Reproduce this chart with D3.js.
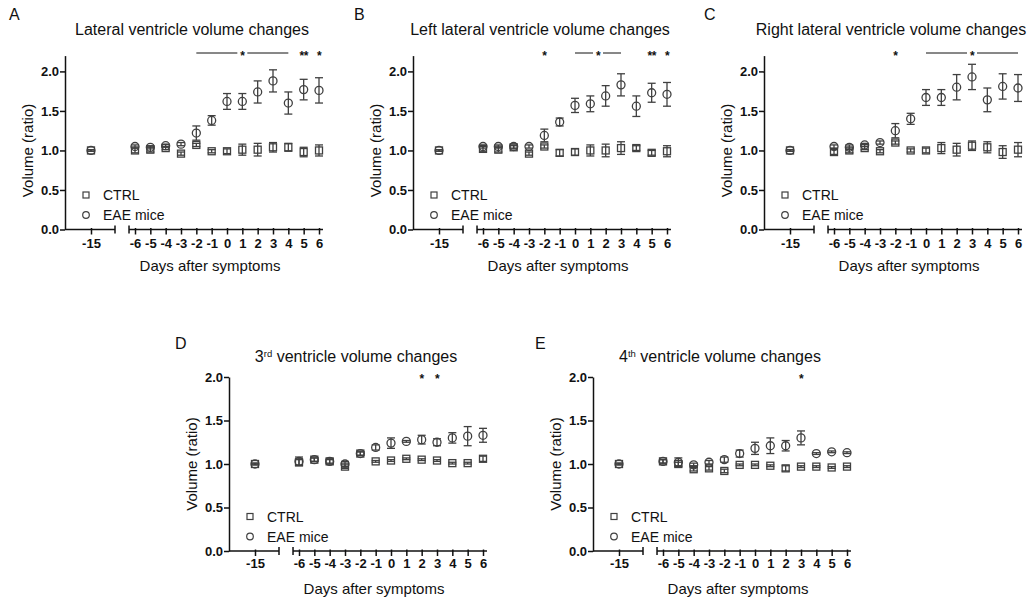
<!DOCTYPE html>
<html lang="en">
<head>
    <meta charset="utf-8">
    <title>Ventricle volume changes</title>
    <script src="https://cdn.jsdelivr.net/npm/d3@7"></script>
    <style>
        body { margin: 0; background: #fff; font-family: 'Liberation Sans', Arial, sans-serif; }
        svg text { fill: #111; }
        .axis path, .axis line { stroke: #111; stroke-width: 1.5; }
    </style>
</head>
<body>
<svg id="chart"></svg>
<script>
// days shown on the x axis (-15 sits on its own segment before the break)
var days = [-15, -6, -5, -4, -3, -2, -1, 0, 1, 2, 3, 4, 5, 6];
var yTicks = [0, 0.5, 1.0, 1.5, 2.0];
var seriesNames = ["CTRL", "EAE mice"];

// A - lateral ventricle
var ctrlA    = [1.00, 1.00, 1.01, 1.03, 0.96, 1.07, 0.99, 0.99, 1.01, 1.01, 1.04, 1.04, 0.98, 1.00];
var ctrlAErr = [0.01, 0.03, 0.03, 0.02, 0.02, 0.02, 0.02, 0.03, 0.07, 0.08, 0.06, 0.05, 0.06, 0.07];
var eaeA     = [1.00, 1.05, 1.04, 1.06, 1.08, 1.22, 1.38, 1.62, 1.62, 1.74, 1.88, 1.60, 1.77, 1.76];
var eaeAErr  = [0.01, 0.02, 0.02, 0.02, 0.02, 0.09, 0.06, 0.10, 0.10, 0.14, 0.14, 0.14, 0.13, 0.16];
// B - left lateral ventricle
var ctrlB    = [1.00, 1.02, 1.01, 1.04, 0.96, 1.05, 0.97, 0.98, 1.00, 1.00, 1.03, 1.03, 0.97, 0.99];
var ctrlBErr = [0.01, 0.03, 0.03, 0.02, 0.02, 0.02, 0.04, 0.04, 0.07, 0.08, 0.08, 0.03, 0.03, 0.07];
var eaeB     = [1.00, 1.05, 1.05, 1.05, 1.05, 1.19, 1.36, 1.57, 1.59, 1.69, 1.83, 1.56, 1.73, 1.71];
var eaeBErr  = [0.01, 0.02, 0.02, 0.02, 0.02, 0.08, 0.05, 0.09, 0.10, 0.13, 0.14, 0.13, 0.12, 0.15];
// C - right lateral ventricle
var ctrlC    = [1.00, 0.98, 1.00, 1.03, 0.99, 1.10, 1.00, 1.00, 1.03, 1.01, 1.06, 1.04, 0.98, 1.01];
var ctrlCErr = [0.01, 0.03, 0.03, 0.02, 0.02, 0.02, 0.02, 0.03, 0.07, 0.08, 0.06, 0.07, 0.08, 0.09];
var eaeC     = [1.00, 1.05, 1.04, 1.07, 1.10, 1.25, 1.40, 1.67, 1.67, 1.80, 1.93, 1.64, 1.81, 1.79];
var eaeCErr  = [0.01, 0.02, 0.03, 0.02, 0.02, 0.09, 0.07, 0.10, 0.10, 0.16, 0.16, 0.15, 0.16, 0.17];
// D - 3rd ventricle
var ctrlD    = [1.00, 1.02, 1.05, 1.03, 0.97, 1.12, 1.03, 1.04, 1.06, 1.05, 1.04, 1.01, 1.01, 1.06];
var ctrlDErr = [0.01, 0.03, 0.02, 0.02, 0.02, 0.02, 0.01, 0.01, 0.01, 0.01, 0.01, 0.01, 0.01, 0.03];
var eaeD     = [1.00, 1.03, 1.05, 1.03, 1.00, 1.12, 1.19, 1.24, 1.26, 1.28, 1.25, 1.30, 1.32, 1.33];
var eaeDErr  = [0.01, 0.05, 0.02, 0.03, 0.03, 0.02, 0.03, 0.06, 0.01, 0.05, 0.04, 0.06, 0.11, 0.08];
// E - 4th ventricle
var ctrlE    = [1.00, 1.03, 1.00, 0.94, 0.95, 0.92, 0.99, 0.99, 0.98, 0.95, 0.97, 0.97, 0.96, 0.97];
var ctrlEErr = [0.01, 0.02, 0.02, 0.02, 0.02, 0.02, 0.01, 0.01, 0.01, 0.03, 0.01, 0.01, 0.01, 0.01];
var eaeE     = [1.00, 1.03, 1.02, 0.99, 1.02, 1.05, 1.12, 1.18, 1.21, 1.21, 1.30, 1.12, 1.14, 1.13];
var eaeEErr  = [0.01, 0.02, 0.05, 0.02, 0.02, 0.03, 0.04, 0.07, 0.09, 0.06, 0.08, 0.01, 0.01, 0.01];

// significance marks: star sits in the middle of [from, to], a line is drawn when from < to
var sigA = [{from: -2, to: 4, label: "*"}, {from: 5, to: 5, label: "**"}, {from: 6, to: 6, label: "*"}];
var sigB = [{from: -2, to: -2, label: "*"}, {from: 0, to: 3, label: "*"}, {from: 5, to: 5, label: "**"}, {from: 6, to: 6, label: "*"}];
var sigC = [{from: -2, to: -2, label: "*"}, {from: 0, to: 6, label: "*"}];
var sigD = [{from: 2, to: 2, label: "*"}, {from: 3, to: 3, label: "*"}];
var sigE = [{from: 3, to: 3, label: "*"}];

// titles as [text, isSuperscript] parts
var titleA = [["Lateral ventricle volume changes", false]];
var titleB = [["Left lateral ventricle volume changes", false]];
var titleC = [["Right lateral ventricle volume changes", false]];
var titleD = [["3", false], ["rd", true], [" ventricle volume changes", false]];
var titleE = [["4", false], ["th", true], [" ventricle volume changes", false]];

var width = 1032, height = 599;
var markColor = "#404040";
var fontFam = "'Liberation Sans', Arial, sans-serif";

var panels = [
    {letter: "A", lx: 9,   ax: 65,  y0: 229.5, yTop: 55.6, yMax: 2.2, sigY: 53,  title: titleA, ctrl: ctrlA, ctrlErr: ctrlAErr, eae: eaeA, eaeErr: eaeAErr, sig: sigA},
    {letter: "B", lx: 354, ax: 413, y0: 229.5, yTop: 55.6, yMax: 2.2, sigY: 53,  title: titleB, ctrl: ctrlB, ctrlErr: ctrlBErr, eae: eaeB, eaeErr: eaeBErr, sig: sigB},
    {letter: "C", lx: 704, ax: 764, y0: 229.5, yTop: 55.6, yMax: 2.2, sigY: 53,  title: titleC, ctrl: ctrlC, ctrlErr: ctrlCErr, eae: eaeC, eaeErr: eaeCErr, sig: sigC},
    {letter: "D", lx: 175, ax: 229, y0: 551,   yTop: 377,  yMax: 2.0, sigY: 376, title: titleD, ctrl: ctrlD, ctrlErr: ctrlDErr, eae: eaeD, eaeErr: eaeDErr, sig: sigD},
    {letter: "E", lx: 535, ax: 593, y0: 551,   yTop: 377,  yMax: 2.0, sigY: 376, title: titleE, ctrl: ctrlE, ctrlErr: ctrlEErr, eae: eaeE, eaeErr: eaeEErr, sig: sigE}
];

var svg = d3.select("#chart").attr("width", width).attr("height", height);

panels.forEach(function (p) {
    var g = svg.append("g");

    // broken x axis: same spacing per day on both segments
    var xMain = d3.scaleLinear().domain([-6, 6]).range([p.ax + 70, p.ax + 254]);
    var xLeft = d3.scaleLinear().domain([-16.7, -13.43]).range([p.ax, p.ax + 50]);
    var x = function (d) { return d < -6 ? xLeft(d) : xMain(d); };
    var y = d3.scaleLinear().domain([0, p.yMax]).range([p.y0, p.yTop]);
    var bottom = p.y0 > 300;

    // panel letter + title
    g.append("text").attr("x", p.lx).attr("y", bottom ? 349 : 20)
        .style("font-size", "16px").text(p.letter);

    var t = g.append("text")
        .attr("x", p.ax + 127).attr("y", bottom ? 362 : 35)
        .attr("text-anchor", "middle").style("font-size", "16px");
    p.title.forEach(function (part) {
        var ts = t.append("tspan").text(part[0]);
        if (part[1]) ts.attr("baseline-shift", "super").style("font-size", "9.5px");
    });

    // y axis
    g.append("g").attr("class", "axis")
        .attr("transform", "translate(" + p.ax + ",0)")
        .call(d3.axisLeft(y).tickValues(yTicks).tickFormat(d3.format(".1f")).tickSize(5).tickSizeOuter(0))
        .call(function (a) {
            a.selectAll("text").style("font-size", "13px").style("font-weight", "bold")
                .style("font-family", fontFam).attr("x", -6);
        });

    // x axis segments
    [[xLeft, [-15], [-16.7, -13.43]], [xMain, d3.range(-6, 7), [-6.39, 6.26]]].forEach(function (seg) {
        var ax = g.append("g").attr("class", "axis")
            .attr("transform", "translate(0," + p.y0 + ")")
            .call(d3.axisBottom(seg[0]).tickValues(seg[1]).tickFormat(function (d) { return String(d); })
                .tickSize(5).tickSizeOuter(0));
        ax.select(".domain").remove();
        ax.selectAll(".tick line").attr("y1", -1.5);
        ax.append("line")
            .attr("x1", seg[0](seg[2][0])).attr("x2", seg[0](seg[2][1]))
            .attr("stroke", "#111").attr("stroke-width", 1.5);
        ax.selectAll("text").style("font-size", "13px").style("font-weight", "bold")
            .style("font-family", fontFam)
            .attr("y", bottom ? 8 : 9);
    });
    // break marks
    [xLeft(-13.43), xMain(-6.39)].forEach(function (bx) {
        g.append("line").attr("x1", bx).attr("x2", bx)
            .attr("y1", p.y0 - 4).attr("y2", p.y0 + 4)
            .attr("stroke", "#111").attr("stroke-width", 1.5);
    });

    // axis titles
    g.append("text").attr("x", p.ax + 145).attr("y", p.y0 + (bottom ? 43 : 41.5))
        .attr("text-anchor", "middle").style("font-size", "15px")
        .text("Days after symptoms");
    g.append("text")
        .attr("transform", "translate(" + (p.ax - 32) + "," + y(1.0) + ") rotate(-90)")
        .attr("text-anchor", "middle").style("font-size", "15px")
        .text("Volume (ratio)");

    // error bars then markers
    var groups = [
        {vals: p.ctrl, errs: p.ctrlErr, shape: "square"},
        {vals: p.eae, errs: p.eaeErr, shape: "circle"}
    ];
    groups.forEach(function (s) {
        var pts = days.map(function (d, i) { return {day: d, v: s.vals[i], e: s.errs[i]}; });
        var eb = g.append("g").attr("stroke", markColor).attr("stroke-width", 1.3).attr("fill", "none");
        pts.forEach(function (pt) {
            var cx = x(pt.day);
            eb.append("line").attr("x1", cx).attr("x2", cx).attr("y1", y(pt.v - pt.e)).attr("y2", y(pt.v + pt.e));
            [pt.v - pt.e, pt.v + pt.e].forEach(function (ev) {
                eb.append("line").attr("x1", cx - 4).attr("x2", cx + 4).attr("y1", y(ev)).attr("y2", y(ev));
            });
        });
        var mk = g.append("g").attr("stroke", markColor).attr("stroke-width", 1.3).attr("fill", "none");
        if (s.shape === "square") {
            mk.selectAll("rect").data(pts).enter().append("rect")
                .attr("x", function (d) { return x(d.day) - 3.5; })
                .attr("y", function (d) { return y(d.v) - 3.5; })
                .attr("width", 7).attr("height", 7);
        } else {
            mk.selectAll("circle").data(pts).enter().append("circle")
                .attr("cx", function (d) { return x(d.day); })
                .attr("cy", function (d) { return y(d.v); })
                .attr("r", 4);
        }
    });

    // legend
    var legY = [p.y0 - 34.5, p.y0 - 14.5];
    g.append("rect").attr("x", p.ax + 21 - 3).attr("y", legY[0] - 3).attr("width", 6).attr("height", 6)
        .attr("fill", "none").attr("stroke", markColor).attr("stroke-width", 1.2);
    g.append("circle").attr("cx", p.ax + 21).attr("cy", legY[1]).attr("r", 3.3)
        .attr("fill", "none").attr("stroke", markColor).attr("stroke-width", 1.2);
    seriesNames.forEach(function (n, i) {
        g.append("text").attr("x", p.ax + 38).attr("y", legY[i] + 5)
            .style("font-size", "14px").text(n);
    });

    // significance
    p.sig.forEach(function (s) {
        var mid = x((s.from + s.to) / 2);
        if (s.from < s.to) {
            g.append("line").attr("x1", x(s.from)).attr("x2", mid - 5).attr("y1", p.sigY).attr("y2", p.sigY)
                .attr("stroke", "#111").attr("stroke-width", 1);
            g.append("line").attr("x1", mid + 5).attr("x2", x(s.to)).attr("y1", p.sigY).attr("y2", p.sigY)
                .attr("stroke", "#111").attr("stroke-width", 1);
        }
        g.append("text").attr("x", mid).attr("y", p.sigY + 7)
            .attr("text-anchor", "middle").style("font-size", "12px").style("font-weight", "bold")
            .style("letter-spacing", "-0.5px")
            .text(s.label);
    });
});
</script>
</body>
</html>
